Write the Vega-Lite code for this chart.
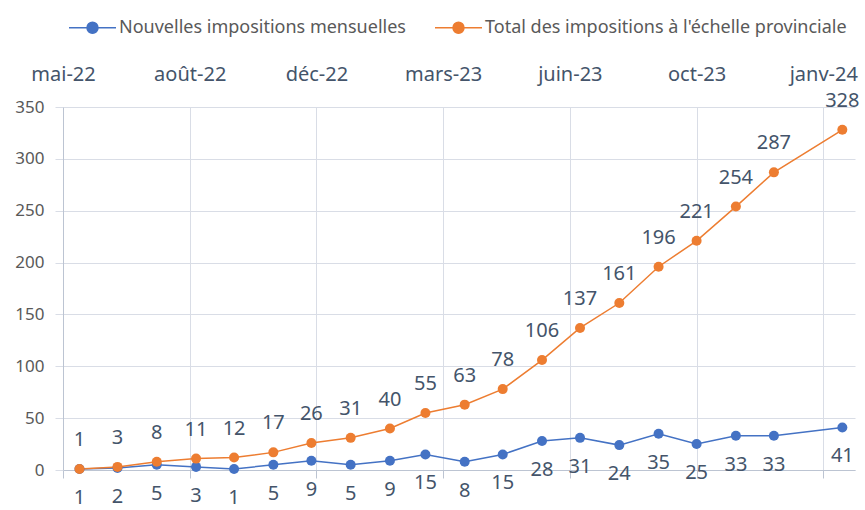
{
  "$schema": "https://vega.github.io/schema/vega-lite/v6.json",
  "width": 792,
  "height": 363,
  "autosize": "none",
  "padding": {"left": 63, "top": 107, "right": 10, "bottom": 40},
  "background": "white",
  "config": {"view": {"stroke": null}, "font": "Noto Sans"},
  "data": {"values": [
    {"date": "2022-06-01", "serie": "Nouvelles impositions mensuelles", "valeur": 1},
    {"date": "2022-07-01", "serie": "Nouvelles impositions mensuelles", "valeur": 2},
    {"date": "2022-08-01", "serie": "Nouvelles impositions mensuelles", "valeur": 5},
    {"date": "2022-09-01", "serie": "Nouvelles impositions mensuelles", "valeur": 3},
    {"date": "2022-10-01", "serie": "Nouvelles impositions mensuelles", "valeur": 1},
    {"date": "2022-11-01", "serie": "Nouvelles impositions mensuelles", "valeur": 5},
    {"date": "2022-12-01", "serie": "Nouvelles impositions mensuelles", "valeur": 9},
    {"date": "2023-01-01", "serie": "Nouvelles impositions mensuelles", "valeur": 5},
    {"date": "2023-02-01", "serie": "Nouvelles impositions mensuelles", "valeur": 9},
    {"date": "2023-03-01", "serie": "Nouvelles impositions mensuelles", "valeur": 15},
    {"date": "2023-04-01", "serie": "Nouvelles impositions mensuelles", "valeur": 8},
    {"date": "2023-05-01", "serie": "Nouvelles impositions mensuelles", "valeur": 15},
    {"date": "2023-06-01", "serie": "Nouvelles impositions mensuelles", "valeur": 28},
    {"date": "2023-07-01", "serie": "Nouvelles impositions mensuelles", "valeur": 31},
    {"date": "2023-08-01", "serie": "Nouvelles impositions mensuelles", "valeur": 24},
    {"date": "2023-09-01", "serie": "Nouvelles impositions mensuelles", "valeur": 35},
    {"date": "2023-10-01", "serie": "Nouvelles impositions mensuelles", "valeur": 25},
    {"date": "2023-11-01", "serie": "Nouvelles impositions mensuelles", "valeur": 33},
    {"date": "2023-12-01", "serie": "Nouvelles impositions mensuelles", "valeur": 33},
    {"date": "2024-01-24", "serie": "Nouvelles impositions mensuelles", "valeur": 41},
    {"date": "2022-06-01", "serie": "Total des impositions à l'échelle provinciale", "valeur": 1},
    {"date": "2022-07-01", "serie": "Total des impositions à l'échelle provinciale", "valeur": 3},
    {"date": "2022-08-01", "serie": "Total des impositions à l'échelle provinciale", "valeur": 8},
    {"date": "2022-09-01", "serie": "Total des impositions à l'échelle provinciale", "valeur": 11},
    {"date": "2022-10-01", "serie": "Total des impositions à l'échelle provinciale", "valeur": 12},
    {"date": "2022-11-01", "serie": "Total des impositions à l'échelle provinciale", "valeur": 17},
    {"date": "2022-12-01", "serie": "Total des impositions à l'échelle provinciale", "valeur": 26},
    {"date": "2023-01-01", "serie": "Total des impositions à l'échelle provinciale", "valeur": 31},
    {"date": "2023-02-01", "serie": "Total des impositions à l'échelle provinciale", "valeur": 40},
    {"date": "2023-03-01", "serie": "Total des impositions à l'échelle provinciale", "valeur": 55},
    {"date": "2023-04-01", "serie": "Total des impositions à l'échelle provinciale", "valeur": 63},
    {"date": "2023-05-01", "serie": "Total des impositions à l'échelle provinciale", "valeur": 78},
    {"date": "2023-06-01", "serie": "Total des impositions à l'échelle provinciale", "valeur": 106},
    {"date": "2023-07-01", "serie": "Total des impositions à l'échelle provinciale", "valeur": 137},
    {"date": "2023-08-01", "serie": "Total des impositions à l'échelle provinciale", "valeur": 161},
    {"date": "2023-09-01", "serie": "Total des impositions à l'échelle provinciale", "valeur": 196},
    {"date": "2023-10-01", "serie": "Total des impositions à l'échelle provinciale", "valeur": 221},
    {"date": "2023-11-01", "serie": "Total des impositions à l'échelle provinciale", "valeur": 254},
    {"date": "2023-12-01", "serie": "Total des impositions à l'échelle provinciale", "valeur": 287},
    {"date": "2024-01-24", "serie": "Total des impositions à l'échelle provinciale", "valeur": 328}
  ]},
  "encoding": {
    "y": {
      "field": "valeur", "type": "quantitative",
      "scale": {"domain": [0, 350], "nice": false},
      "axis": {
        "title": null, "values": [0, 50, 100, 150, 200, 250, 300, 350],
        "labelFont": "Noto Sans", "labelFontSize": 17, "labelColor": "#595959",
        "tickSize": 8, "tickColor": "#d9dde6", "domainColor": "#bcc4d2",
        "gridColor": "#d9dde6", "labelPadding": 11
      }
    },
    "color": {
      "field": "serie", "type": "nominal",
      "scale": {"domain": ["Nouvelles impositions mensuelles", "Total des impositions à l'échelle provinciale"], "range": ["#4472C4", "#ED7D31"]},
      "legend": null
    }
  },
  "resolve": {"axis": {"x": "independent"}},
  "layer": [
    {
      "mark": {"type": "line", "strokeWidth": 1.5},
      "encoding": {
        "x": {
          "field": "date", "type": "temporal",
          "scale": {"type": "utc", "domain": [{"year": 2022, "month": 5, "date": 19, "utc": true}, {"year": 2024, "month": 2, "date": 3, "utc": true}]},
          "axis": {
            "orient": "top", "title": null, "ticks": false, "domain": false,
            "values": [
              {"year": 2022, "month": 5, "date": 19, "utc": true},
              {"year": 2022, "month": 8, "date": 27, "utc": true},
              {"year": 2022, "month": 12, "date": 5, "utc": true},
              {"year": 2023, "month": 3, "date": 15, "utc": true},
              {"year": 2023, "month": 6, "date": 23, "utc": true},
              {"year": 2023, "month": 10, "date": 1, "utc": true},
              {"year": 2024, "month": 1, "date": 9, "utc": true}
            ],
            "labelExpr": "['janv','févr','mars','avr','mai','juin','juil','août','sept','oct','nov','déc'][utcmonth(datum.value)] + '-' + utcFormat(datum.value, '%y')",
            "labelFont": "Noto Sans", "labelFontSize": 20, "labelColor": "#44546A",
            "labelPadding": 23, "labelFlush": false, "labelOverlap": false,
            "grid": true, "gridColor": "#d9dde6"
          }
        },
        "color": {
          "field": "serie", "type": "nominal",
          "legend": {
            "orient": "none", "legendX": 5, "legendY": -104, "direction": "horizontal",
            "title": null, "labelFont": "Noto Sans", "labelFontSize": 18, "labelColor": "#595959",
            "symbolType": "M-1,0H1M0.234,0A0.234,0.234,0,1,1,-0.234,0A0.234,0.234,0,1,1,0.234,0Z",
            "symbolSize": 2209, "symbolStrokeWidth": 1.5, "columnPadding": 26, "labelOffset": 2, "labelLimit": 600,
            "encode": {"symbols": {"update": {"fill": {"scale": "color", "field": "value"}, "stroke": {"scale": "color", "field": "value"}, "opacity": {"value": 1}}}}
          }
        }
      }
    },
    {
      "mark": {"type": "point", "filled": true, "size": 100, "opacity": 1},
      "encoding": {
        "x": {"field": "date", "type": "temporal", "axis": null}
      }
    },
    {
      "transform": [{"filter": "datum.serie === \"Total des impositions à l'échelle provinciale\""}],
      "mark": {"type": "text", "dy": -29, "fontSize": 20, "font": "Noto Sans", "color": "#44546A", "baseline": "middle"},
      "encoding": {
        "x": {"field": "date", "type": "temporal", "axis": null},
        "text": {"field": "valeur", "type": "quantitative"},
        "color": {"value": "#44546A"}
      }
    },
    {
      "transform": [{"filter": "datum.serie === 'Nouvelles impositions mensuelles'"}],
      "mark": {"type": "text", "dy": 29, "fontSize": 20, "font": "Noto Sans", "color": "#44546A", "baseline": "middle"},
      "encoding": {
        "x": {
          "field": "date", "type": "temporal",
          "axis": {
            "orient": "bottom", "title": null, "labels": false, "grid": false,
            "ticks": true, "tickSize": 8, "tickColor": "#bcc4d2", "domainColor": "#bcc4d2",
            "values": [
              {"year": 2022, "month": 5, "date": 19, "utc": true},
              {"year": 2022, "month": 8, "date": 27, "utc": true},
              {"year": 2022, "month": 12, "date": 5, "utc": true},
              {"year": 2023, "month": 3, "date": 15, "utc": true},
              {"year": 2023, "month": 6, "date": 23, "utc": true},
              {"year": 2023, "month": 10, "date": 1, "utc": true},
              {"year": 2024, "month": 1, "date": 9, "utc": true}
            ]
          }
        },
        "text": {"field": "valeur", "type": "quantitative"},
        "color": {"value": "#44546A"}
      }
    }
  ]
}
